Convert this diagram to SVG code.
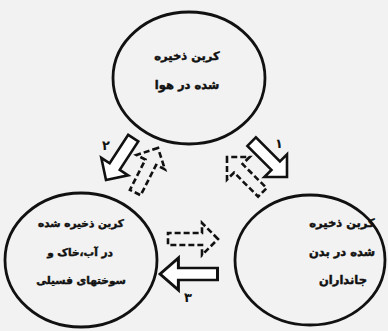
<svg xmlns="http://www.w3.org/2000/svg" width="388" height="331" viewBox="0 0 388 331">
<defs>
<style>
.node{fill:none;stroke:#111;stroke-width:2.8}
.t{font-family:"DejaVu Sans",sans-serif;font-weight:bold;font-size:11.5px;fill:#111;stroke:#111;stroke-width:0.45;text-anchor:middle}
.l{font-size:10.5px}
.solid{fill:#fff;stroke:#111;stroke-width:2.6;stroke-linejoin:miter}
.dash{fill:none;stroke:#111;stroke-width:2.6;stroke-dasharray:6 3}
.num{font-family:"DejaVu Sans",sans-serif;font-weight:bold;font-size:13px;fill:#111;text-anchor:middle}
</style>
<polygon id="arr" points="0,0 -16,-16 -16,-6 -50,-6 -50,6 -16,6 -16,16"/>
</defs>
<rect width="388" height="331" fill="#f2f2f2"/>
<g id="air">
<ellipse class="node" cx="189" cy="78" rx="76" ry="66"/>
<text class="t" x="187" y="60">کربن ذخیره</text>
<text class="t" x="187" y="89">شده در هوا</text>
</g>
<g id="soil">
<ellipse class="node" cx="81" cy="260" rx="76" ry="67"/>
<text class="t l" x="81" y="227">کربن ذخیره شده</text>
<text class="t l" x="80" y="256">در آب،خاک و</text>
<text class="t l" x="81" y="284">سوختهای فسیلی</text>
</g>
<g id="organisms">
<ellipse class="node" cx="310" cy="260" rx="75" ry="65"/>
<text class="t" x="342" y="227">کربن ذخیره</text>
<text class="t" x="342" y="256">شده در بدن</text>
<text class="t" x="343" y="284">جانداران</text>
</g>
<g id="connectors">
<use href="#arr" class="solid" transform="translate(287,177) rotate(45)"/>
<use href="#arr" class="dash" transform="translate(227,157) rotate(-135)"/>
<use href="#arr" class="solid" transform="translate(106,180) rotate(123)"/>
<use href="#arr" class="dash" transform="translate(158,148) rotate(-63)"/>
<use href="#arr" class="solid" transform="translate(160,274) rotate(180) scale(1.15,1)"/>
<use href="#arr" class="dash" transform="translate(218,239) rotate(0)"/>
<text class="num" x="279" y="148">۱</text>
<text class="num" x="106" y="150">۲</text>
<text class="num" x="188" y="302">۳</text>
</g>
</svg>
